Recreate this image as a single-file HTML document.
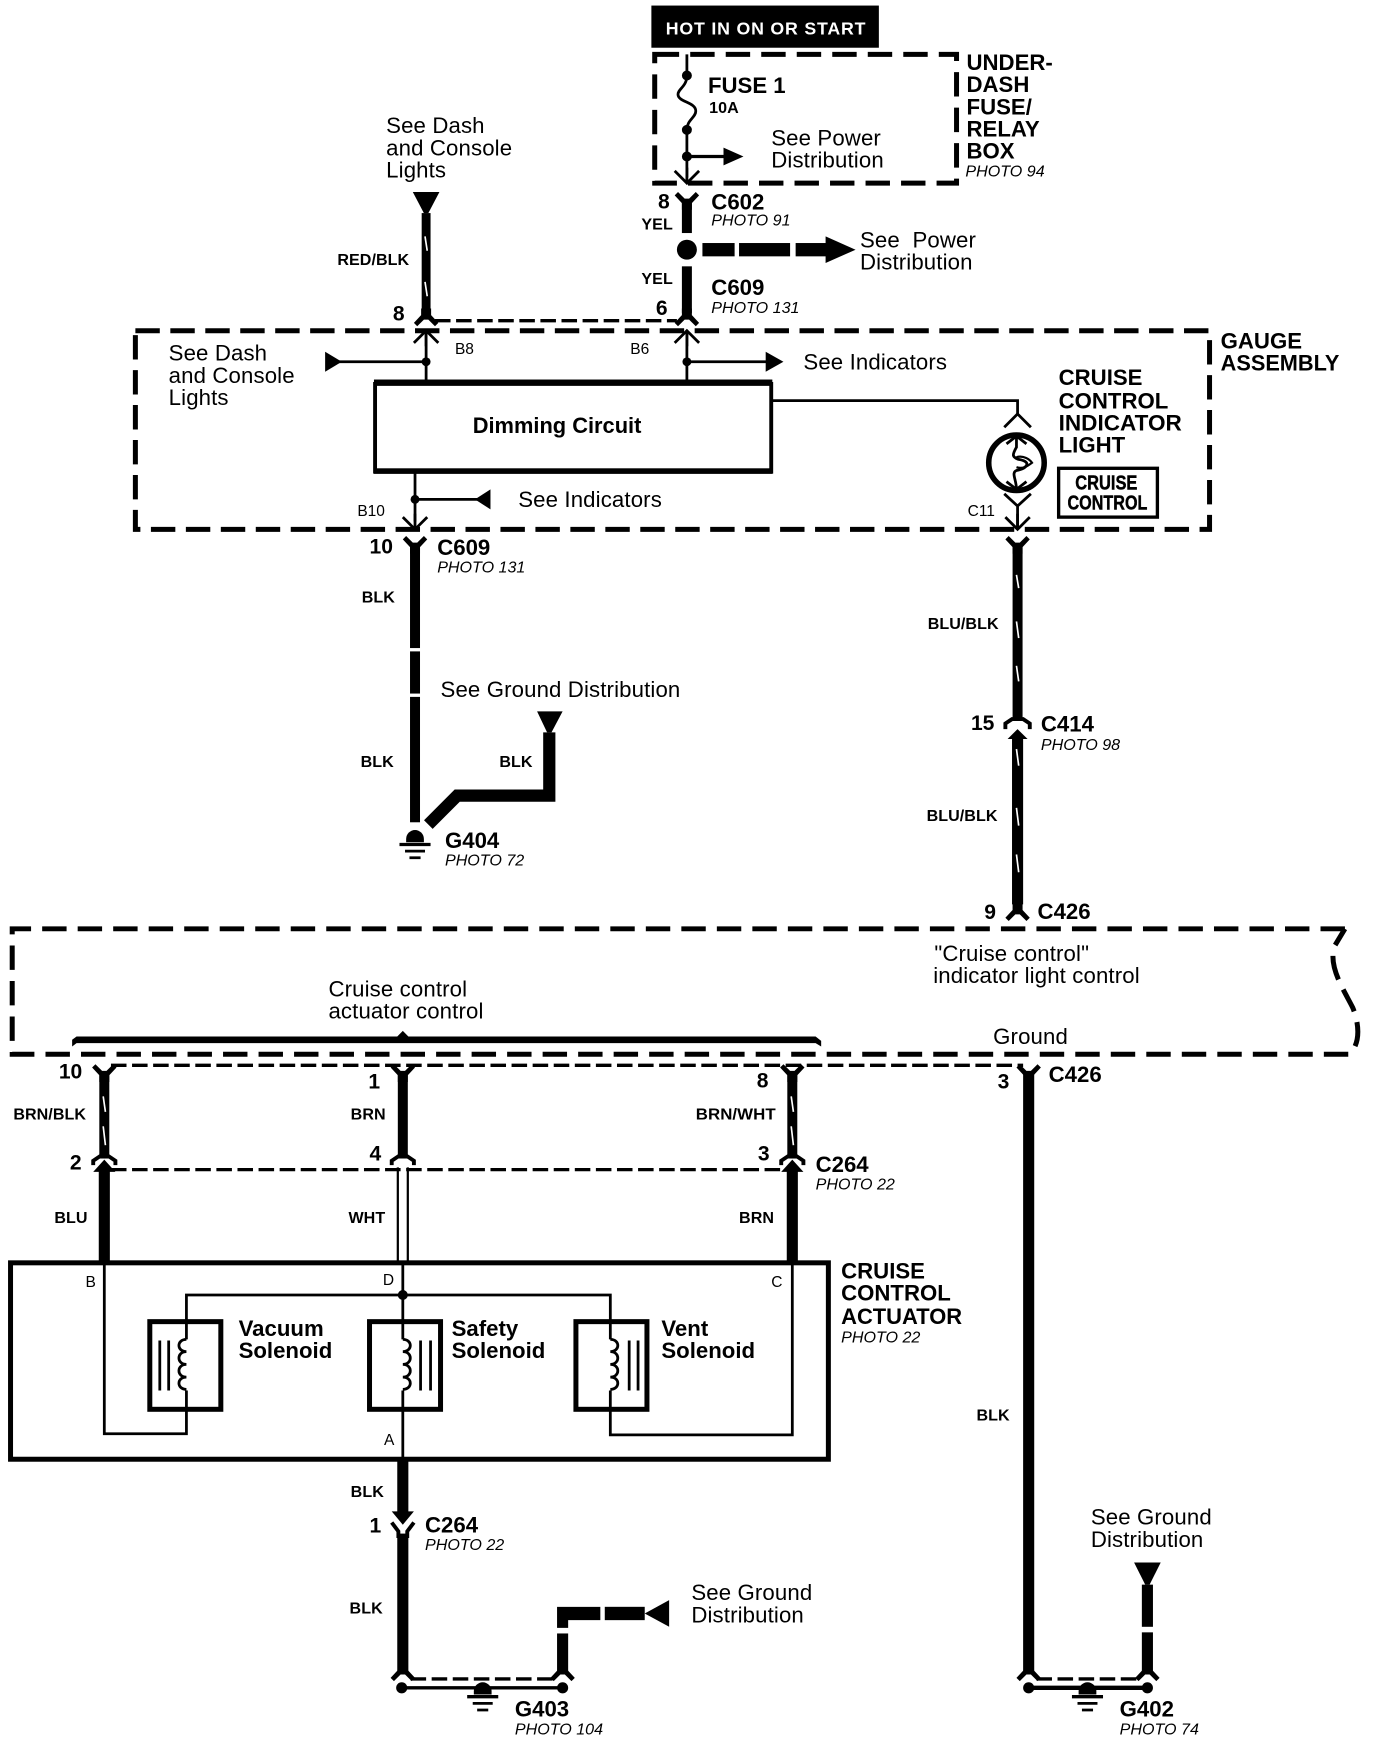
<!DOCTYPE html>
<html><head><meta charset="utf-8"><style>
html,body{margin:0;padding:0;background:#fff}
svg{display:block}
text{font-family:"Liberation Sans",sans-serif;fill:#000;font-size:20px;letter-spacing:.12px}
.b{font-weight:bold;letter-spacing:0}
.w{font-weight:bold;font-size:14.5px;letter-spacing:.05px}
.p{font-style:italic;font-size:14.5px;letter-spacing:0}
.s{font-size:14px;letter-spacing:0}
.n{font-weight:bold;font-size:19px;letter-spacing:0}
</style></head><body>
<svg width="1376" height="1740" viewBox="0 0 1240 1568" xmlns="http://www.w3.org/2000/svg">
<defs>
<path id="y" d="M-11,-6 L-8,-9 L-2,-3 H2 L8,-9 L11,-6 L4.500,1 V7 H-4.500 V1Z"/>
<path id="u" d="M-11,6 L-8,9 L-2,3 H2 L8,9 L11,6 L4.500,-1 V-7 H-4.500 V-1Z"/>
<path id="ad" d="M-11,-11 L0,0 L11,-11 M0,0 V-14" fill="none" stroke="#000" stroke-width="2.500"/>
<path id="au" d="M-11,11 L0,0 L11,11 M0,0 V14" fill="none" stroke="#000" stroke-width="2.500"/>
<g id="gnd"><path d="M-8,0 A8,8 0 0 1 8,0 V3 H-8Z" fill="#000"/><path d="M-14,5 H14" stroke="#000" stroke-width="3"/><path d="M-9,11 H9 M-5,17 H5" stroke="#000" stroke-width="2.500"/></g>
<path id="coil" d="M0,0 C9,0 9,11 0,11 C9,11 9,22.500 0,22.500 C9,22.500 9,34 0,34 C9,34 9,45 0,45" fill="none" stroke="#000" stroke-width="2.500"/>
<path id="coilL" d="M0,0 C-9,0 -9,11 0,11 C-9,11 -9,22.500 0,22.500 C-9,22.500 -9,34 0,34 C-9,34 -9,45 0,45" fill="none" stroke="#000" stroke-width="2.500"/>
</defs>

<!-- top hot bar -->
<rect x="587" y="5" width="205" height="38" fill="#000"/>
<text x="600" y="31" textLength="180" lengthAdjust="spacing" style="fill:#fff;font-size:16px;font-weight:bold">HOT IN ON OR START</text>

<!-- under dash box -->
<rect x="590" y="49" width="272" height="116" fill="none" stroke="#000" stroke-width="4.500" stroke-dasharray="22 10"/>
<path d="M619,49 V68 C619,78 611,80 611,85 C611,92 627,92 627,100 C627,106 619,108 619,117 V160" fill="none" stroke="#000" stroke-width="2.500"/>
<circle cx="619" cy="68" r="4.500"/><circle cx="619" cy="117" r="4.500"/><circle cx="619" cy="141" r="4.500"/>
<path d="M619,141 H655" stroke="#000" stroke-width="3"/><path d="M652,133 L670,141 L652,149Z"/>
<use href="#ad" x="619" y="165"/>
<text x="638" y="84" class="b">FUSE 1</text><text x="639" y="102" class="w">10A</text>
<text x="695" y="131">See Power</text><text x="695" y="151">Distribution</text>
<text x="871" y="63" class="b">UNDER-</text><text x="871" y="83" class="b">DASH</text><text x="871" y="103" class="b">FUSE/</text><text x="871" y="123" class="b">RELAY</text><text x="871" y="143" class="b">BOX</text>
<text x="870" y="159" class="p">PHOTO 94</text>

<!-- C602 -->
<use href="#y" x="619" y="182"/>
<rect x="614.500" y="182" width="9" height="28"/>
<circle cx="619" cy="225" r="9"/>
<rect x="633" y="219" width="29" height="12"/><rect x="666" y="219" width="46" height="12"/><rect x="717" y="219" width="30" height="12"/>
<path d="M744,213 L771,225 L744,237Z"/>
<rect x="614.500" y="240" width="9" height="42"/>
<use href="#u" x="619" y="285"/>
<text x="593" y="188" class="n">8</text><text x="578" y="207" class="w">YEL</text>
<text x="641" y="189" class="b">C602</text><text x="641" y="203" class="p">PHOTO 91</text>
<text x="775" y="223">See&#160;&#160;Power</text><text x="775" y="243">Distribution</text>
<text x="578" y="256" class="w">YEL</text><text x="641" y="266" class="b">C609</text><text x="641" y="282" class="p">PHOTO 131</text>
<text x="591" y="284" class="n">6</text>

<!-- RED/BLK -->
<path d="M372,173 H396 L386,192 H382Z"/>
<rect x="380" y="192" width="8" height="90"/>
<path d="M383,213 L385,226 M383,254 L385,267" stroke="#fff" stroke-width="1.500"/>
<use href="#u" x="384" y="285"/>
<path d="M392,289 H610" stroke="#000" stroke-width="3" stroke-dasharray="14 5"/>
<text x="348" y="120">See Dash</text><text x="348" y="140">and Console</text><text x="348" y="160">Lights</text>
<text x="304" y="239" class="w">RED/BLK</text><text x="354" y="289" class="n">8</text>

<!-- gauge box -->
<rect x="122" y="298" width="968" height="179" fill="none" stroke="#000" stroke-width="4.500" stroke-dasharray="22 9.500"/>
<use href="#au" x="384" y="298"/><use href="#au" x="619" y="298"/>
<path d="M384,300 V343 M619,300 V343" stroke="#000" stroke-width="2.500"/>
<circle cx="384" cy="326" r="4"/><circle cx="619" cy="326" r="4"/>
<path d="M304,326 H384" stroke="#000" stroke-width="2.500"/><path d="M293,317 L308,326 L293,335Z"/>
<path d="M619,326 H692" stroke="#000" stroke-width="2.500"/><path d="M690,317 L706,326 L690,335Z"/>
<text x="410" y="319" class="s">B8</text><text x="568" y="319" class="s">B6</text>
<text x="152" y="325">See Dash</text><text x="152" y="345">and Console</text><text x="152" y="365">Lights</text>
<text x="724" y="333">See Indicators</text>
<text x="1100" y="314" class="b">GAUGE</text><text x="1100" y="334" class="b" textLength="107" lengthAdjust="spacingAndGlyphs">ASSEMBLY</text>
<path d="M338,346 H695 V425 H338Z" fill="none" stroke="#000" stroke-width="3.500"/>
<rect x="337" y="342" width="359" height="5"/><rect x="337" y="422" width="359" height="5"/>
<text x="426" y="390" class="b" textLength="152" lengthAdjust="spacingAndGlyphs">Dimming Circuit</text>
<path d="M695,361 H917 V373" fill="none" stroke="#000" stroke-width="2.500"/>
<path d="M905,385 L917,373 L929,385 M905,445 L917,456 L929,445 M917,456 V476" fill="none" stroke="#000" stroke-width="2.500"/>
<circle cx="916" cy="417" r="25" fill="none" stroke="#000" stroke-width="5"/>
<path d="M907,400 L916,393 L925,400 M907,434 L916,441 L925,434 M916,393 V403 C912,410 912,412 918,414 C930,416 926,422 916,424 C911,426 916,432 916,441" fill="none" stroke="#000" stroke-width="2.500"/>
<path d="M916,412 C922,410 928,414 930,417 C926,420 922,423 916,421" fill="none" stroke="#000" stroke-width="2"/>
<use href="#ad" x="917" y="477"/>
<text x="872" y="465" class="s">C11</text>
<text x="954" y="347" class="b">CRUISE</text><text x="954" y="368" class="b">CONTROL</text><text x="954" y="388" class="b" textLength="111" lengthAdjust="spacingAndGlyphs">INDICATOR</text><text x="954" y="408" class="b">LIGHT</text>
<rect x="954" y="422" width="89" height="44" fill="none" stroke="#000" stroke-width="3"/>
<text x="969" y="441" class="b" style="font-size:18px;stroke:#000;stroke-width:.4px" textLength="56" lengthAdjust="spacingAndGlyphs">CRUISE</text>
<text x="962" y="459" class="b" style="font-size:18px;stroke:#000;stroke-width:.4px" textLength="72" lengthAdjust="spacingAndGlyphs">CONTROL</text>
<path d="M374,425 V470" stroke="#000" stroke-width="2.500"/><circle cx="374" cy="450" r="4"/>
<path d="M374,450 H432" stroke="#000" stroke-width="2.500"/><path d="M442,441 L428,450 L442,459Z"/>
<use href="#ad" x="374" y="477"/>
<text x="322" y="465" class="s">B10</text>
<text x="467" y="457">See Indicators</text>

<!-- left BLK -->
<use href="#y" x="374" y="492"/>
<rect x="369.500" y="492" width="9" height="92"/><rect x="369.500" y="587" width="9" height="38"/><rect x="369.500" y="628" width="9" height="113"/>
<path d="M386,743 L412,717 H495 V660" fill="none" stroke="#000" stroke-width="11"/>
<path d="M484,641 H507 L497,660 H493Z"/>
<use href="#gnd" x="374" y="756"/>
<text x="333" y="499" class="n">10</text><text x="394" y="500" class="b">C609</text><text x="394" y="516" class="p">PHOTO 131</text>
<text x="326" y="543" class="w">BLK</text><text x="325" y="691" class="w">BLK</text><text x="450" y="691" class="w">BLK</text>
<text x="397" y="628">See Ground Distribution</text>
<text x="401" y="764" class="b">G404</text><text x="401" y="780" class="p">PHOTO 72</text>

<!-- BLU/BLK -->
<use href="#y" x="917" y="492"/>
<rect x="912.500" y="492" width="9" height="156"/>
<path d="M916,518 L918,530 M916,560 L918,575 M916,600 L918,614" stroke="#fff" stroke-width="1.500"/>
<path d="M906,657 V652 L912,648 H922 L928,652 V657" fill="none" stroke="#000" stroke-width="3.500"/>
<path d="M917,657 L926,666 H922 V815 H912 V666 H908Z"/>
<path d="M916,675 L918,690 M916,728 L918,744 M916,770 L918,786" stroke="#fff" stroke-width="1.500"/>
<use href="#u" x="917" y="821"/>
<text x="836" y="567" class="w">BLU/BLK</text><text x="835" y="740" class="w">BLU/BLK</text>
<text x="875" y="658" class="n">15</text><text x="938" y="659" class="b">C414</text><text x="938" y="676" class="p">PHOTO 98</text>
<text x="887" y="828" class="n">9</text><text x="935" y="828" class="b">C426</text>

<!-- big dashed -->
<path d="M1212,837 H11 V950 H1216 C1225,942 1226,925 1219,908 C1211,892 1196,870 1203,852 L1212,837" fill="none" stroke="#000" stroke-width="4.500" stroke-dasharray="22 10"/>
<text x="842" y="866">"Cruise control"</text><text x="841" y="886">indicator light control</text>
<text x="296" y="898">Cruise control</text><text x="296" y="918">actuator control</text>
<text x="895" y="941">Ground</text>
<path d="M65,943 V937 L69,934 H358 L363,929 L368,934 H735 L740,938 V943 L735,940 H69Z"/>

<!-- lower connectors -->
<path d="M100,960 H922" stroke="#000" stroke-width="3" stroke-dasharray="14 5"/>
<use href="#y" x="94" y="968"/><use href="#y" x="363" y="968"/><use href="#y" x="714" y="968"/><use href="#y" x="927" y="968"/>
<rect x="89.500" y="967" width="9" height="77"/><rect x="358.500" y="967" width="9" height="77"/><rect x="709.500" y="967" width="9" height="77"/>
<path d="M93,988 L95,1002 M93,1015 L95,1032 M713,988 L715,1002 M713,1015 L715,1032" stroke="#fff" stroke-width="1.500"/>
<rect x="922" y="966" width="10" height="540"/>
<path d="M84,1050 V1046 L90,1042 H98 L104,1046 V1050 M353,1050 V1046 L359,1042 H367 L373,1046 V1050 M704,1050 V1046 L710,1042 H718 L724,1046 V1050" fill="none" stroke="#000" stroke-width="3.500"/>
<path d="M100,1054 H708" stroke="#000" stroke-width="3" stroke-dasharray="14 5"/>
<path d="M94,1045 L104,1056 H99 V1138 H89 V1056 H84Z"/>
<path d="M714,1045 L724,1056 H719 V1138 H709 V1056 H704Z"/>
<path d="M358.500,1052 V1138 M367.500,1052 V1138" stroke="#000" stroke-width="2"/>
<text x="53" y="972" class="n">10</text><text x="332" y="981" class="n">1</text><text x="682" y="980" class="n">8</text><text x="899" y="981" class="n">3</text><text x="945" y="975" class="b">C426</text>
<text x="12" y="1009" class="w">BRN/BLK</text><text x="316" y="1009" class="w">BRN</text><text x="627" y="1009" class="w" textLength="72" lengthAdjust="spacingAndGlyphs">BRN/WHT</text>
<text x="63" y="1054" class="n">2</text><text x="333" y="1046" class="n">4</text><text x="683" y="1046" class="n">3</text>
<text x="735" y="1056" class="b">C264</text><text x="735" y="1072" class="p">PHOTO 22</text>
<text x="49" y="1102" class="w">BLU</text><text x="314" y="1102" class="w">WHT</text><text x="666" y="1102" class="w">BRN</text>

<!-- actuator -->
<rect x="9.500" y="1138" width="737" height="177" fill="none" stroke="#000" stroke-width="4.500"/>
<path d="M94,1138 V1292 H168 V1253 M168,1207 V1167 H550 V1207 M550,1253 V1293 H714 V1138 M363,1138 V1207 M363,1253 V1315" fill="none" stroke="#000" stroke-width="2.500"/>
<circle cx="363" cy="1167" r="4.500"/>
<rect x="135" y="1191" width="64" height="79" fill="none" stroke="#000" stroke-width="4.500"/>
<rect x="333" y="1191" width="64" height="79" fill="none" stroke="#000" stroke-width="4.500"/>
<rect x="519" y="1191" width="64" height="79" fill="none" stroke="#000" stroke-width="4.500"/>
<use href="#coilL" x="168" y="1207"/><use href="#coil" x="363" y="1207"/><use href="#coil" x="550" y="1207"/>
<path d="M144,1208 V1253 M152,1208 V1253 M379,1208 V1253 M388,1208 V1253 M567,1208 V1253 M575,1208 V1253" stroke="#000" stroke-width="2.500"/>
<text x="215" y="1204" class="b">Vacuum</text><text x="215" y="1224" class="b">Solenoid</text>
<text x="407" y="1204" class="b">Safety</text><text x="407" y="1224" class="b">Solenoid</text>
<text x="596" y="1204" class="b">Vent</text><text x="596" y="1224" class="b">Solenoid</text>
<text x="77" y="1160" class="s">B</text><text x="345" y="1158" class="s">D</text><text x="695" y="1160" class="s">C</text><text x="346" y="1302" class="s">A</text>
<text x="758" y="1152" class="b">CRUISE</text><text x="758" y="1172" class="b">CONTROL</text><text x="758" y="1193" class="b" textLength="109" lengthAdjust="spacingAndGlyphs">ACTUATOR</text><text x="758" y="1210" class="p">PHOTO 22</text>

<!-- lower C264 -->
<path d="M358,1316 H368 V1362 H373 L363,1374 L353,1362 H358Z"/>
<path d="M353,1372 L359,1380 V1386 M373,1372 L367,1380 V1386" fill="none" stroke="#000" stroke-width="3.500"/>
<rect x="358" y="1382" width="10" height="124"/>
<use href="#u" x="363" y="1506"/>
<text x="316" y="1349" class="w">BLK</text><text x="315" y="1454" class="w">BLK</text>
<text x="333" y="1381" class="n">1</text><text x="383" y="1381" class="b">C264</text><text x="383" y="1397" class="p">PHOTO 22</text>
<path d="M370,1513 H500" stroke="#000" stroke-width="3" stroke-dasharray="14 5"/>
<use href="#u" x="507" y="1506"/>
<rect x="502" y="1472" width="10" height="34"/>
<path d="M502,1467 V1448 H541 V1460 H512 V1467Z"/>
<rect x="545" y="1448" width="36" height="12"/>
<path d="M603,1442 V1466 L581,1454Z"/>
<text x="623" y="1442">See Ground</text><text x="623" y="1462">Distribution</text>
<path d="M363,1521 H507" stroke="#000" stroke-width="3"/>
<circle cx="362" cy="1521" r="5"/><circle cx="507" cy="1521" r="5"/>
<use href="#gnd" x="435" y="1524"/>
<text x="464" y="1547" class="b">G403</text><text x="464" y="1563" class="p">PHOTO 104</text>

<!-- G402 -->
<use href="#u" x="927" y="1506"/><use href="#u" x="1034" y="1506"/>
<text x="880" y="1280" class="w">BLK</text>
<path d="M934,1513 H1028" stroke="#000" stroke-width="3" stroke-dasharray="14 5"/>
<rect x="1029" y="1471" width="10" height="35"/><rect x="1029" y="1428" width="10" height="38"/>
<path d="M1022,1408 H1046 L1036,1428 H1032Z"/>
<text x="983" y="1374">See Ground</text><text x="983" y="1394">Distribution</text>
<path d="M927,1521 H1034" stroke="#000" stroke-width="4"/>
<circle cx="927" cy="1521" r="5"/><circle cx="1034" cy="1521" r="5"/>
<use href="#gnd" x="980" y="1524"/>
<text x="1009" y="1547" class="b">G402</text><text x="1009" y="1563" class="p">PHOTO 74</text>
</svg>
</body></html>
